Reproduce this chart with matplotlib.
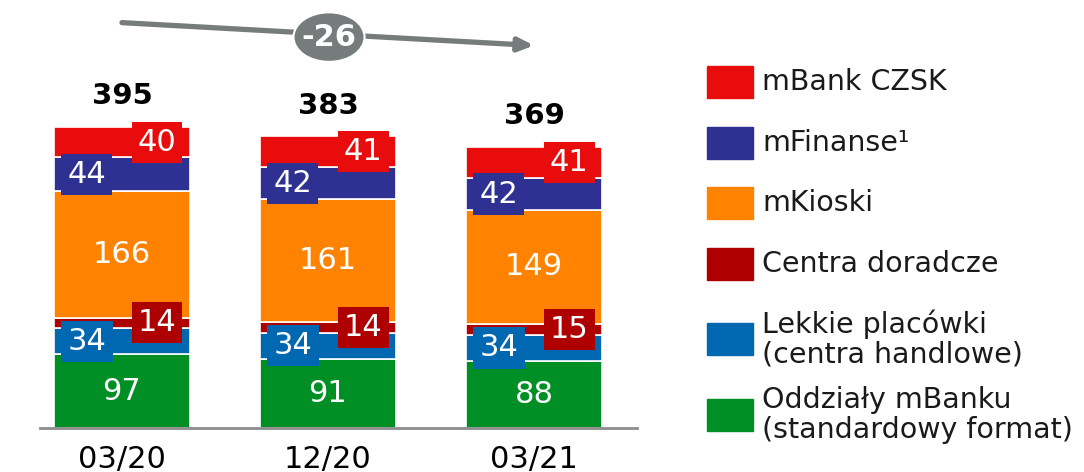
import matplotlib
matplotlib.use("Agg")
import matplotlib.pyplot as plt
from matplotlib.patches import Ellipse, Rectangle

# data
categories = ["03/20", "12/20", "03/21"]
series_names = ["Oddziały mBanku\n(standardowy format)", "Lekkie placówki\n(centra handlowe)",
                "Centra doradcze", "mKioski", "mFinanse¹", "mBank CZSK"]
oddzialy = [97, 91, 88]
lekkie = [34, 34, 34]
centra = [14, 14, 15]
mkioski = [166, 161, 149]
mfinanse = [44, 42, 42]
czsk = [40, 41, 41]
totals = [395, 383, 369]
change_label = "-26"

series = [oddzialy, lekkie, centra, mkioski, mfinanse, czsk]
colors = ["#008F25", "#0067B1", "#AE0000", "#FF8300", "#2E3192", "#E80C0C"]
# label placement per series: 0 = centered plain, -1 = boxed left, +1 = boxed right
label_pos = [0, -1, 1, 0, -1, 1]
grey = "#767B7B"

fig = plt.figure(figsize=(10.84, 4.72), dpi=100)
ax = fig.add_axes([40/1084, 44/472, 597/1084, 428/472])

x = range(len(categories))
bottom = [0, 0, 0]
for vals, col, pos in zip(series, colors, label_pos):
    ax.bar(x, vals, width=0.66, bottom=bottom, color=col, edgecolor="white", linewidth=1.2)
    for i, v in enumerate(vals):
        yc = bottom[i] + v / 2
        if pos == 0:
            ax.text(i, yc, str(v), ha="center", va="center", color="white", fontsize=22)
        else:
            ax.text(i + 0.17 * pos, yc, str(v), ha="center", va="center", color="white", fontsize=22,
                    bbox=dict(boxstyle="square,pad=0.2", fc=col, ec="none"), zorder=5)
    bottom = [b + v for b, v in zip(bottom, vals)]

# totals
for i, t in enumerate(totals):
    ax.annotate(str(t), (i, t), xytext=(0, 22), textcoords="offset points",
                ha="center", va="center", fontsize=21, fontweight="bold", color="black")

# trend arrow
ax.annotate("", xy=(2.0, 502), xytext=(0, 532),
            arrowprops=dict(arrowstyle="-|>,head_length=0.9,head_width=0.4", color=grey, lw=3.8,
                            shrinkA=0, shrinkB=0))
ax.add_patch(Ellipse((1.005, 513), 0.345, 65, fc=grey, ec="white", lw=1.5, zorder=6))
ax.text(1.005, 512, change_label, ha="center", va="center", color="white", fontsize=22,
        fontweight="bold", zorder=7)

ax.set_xlim(-0.398, 2.5)
ax.set_ylim(0, 561.7)
ax.set_xticks(list(x))
ax.set_xticklabels(categories, fontsize=22)
ax.tick_params(axis="x", length=0, pad=12)
ax.set_yticks([])
for s in ["top", "left", "right"]:
    ax.spines[s].set_visible(False)
ax.spines["bottom"].set_color("#8C8C8C")
ax.spines["bottom"].set_linewidth(2)

# legend drawn manually (top to bottom)
leg_y = [415, 339, 264, 203, 143, 82]
for name, col, py in zip(series_names, colors, leg_y):
    fig.patches.append(Rectangle((707/1084, 1 - (py + 16)/472), 46/1084, 32/472,
                                 transform=fig.transFigure, color=col))
    fig.text(762/1084, 1 - py/472, name, ha="left", va="center", fontsize=20.5,
             color="#1A1A1A", linespacing=1.1)

fig.savefig("out.png", dpi=100)
